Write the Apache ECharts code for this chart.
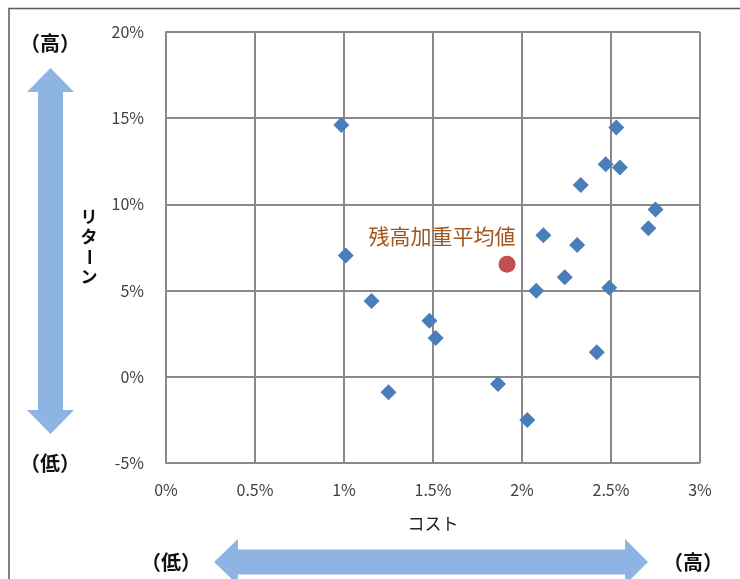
<!DOCTYPE html>
<html>
<head>
<meta charset="utf-8">
<script src="https://cdn.jsdelivr.net/npm/echarts@6/dist/echarts.min.js"></script>
<style>
  html, body { margin: 0; padding: 0; background: #fff; }
  #chart { width: 740px; height: 579px; }
</style>
</head>
<body>
<div id="chart"></div>
<script>
// Cost (%) vs return (%) for each fund
const costs   = [0.985, 1.01, 1.155, 1.48, 1.515, 1.25, 1.865, 2.03, 2.08, 2.12, 2.24, 2.31, 2.33, 2.42, 2.47, 2.49, 2.53, 2.55, 2.71, 2.75];
const returns = [14.6, 7.03, 4.4, 3.25, 2.25, -0.89, -0.42, -2.51, 4.99, 8.21, 5.77, 7.65, 11.13, 1.43, 12.33, 5.17, 14.46, 12.14, 8.62, 9.70];

// Balance-weighted average
const avgCost = [1.916];
const avgReturn = [6.53];
const avgLabel = '残高加重平均値';

// Axis settings
const xMin = 0, xMax = 3, xStep = 0.5;
const yMin = -5, yMax = 20, yStep = 5;
const xTitle = 'コスト';
const yTitleChars = ['リ', 'タ', 'ー', 'ン'];
const highText = '（高）';
const lowText = '（低）';

const pct = v => (Math.round(v * 10) / 10) + '%';

const chart = echarts.init(document.getElementById('chart'));

const arrowColor = '#8DB4E2';
const jp = '"Noto Sans CJK JP", "Noto Sans", sans-serif';
const capFont = 'bold 20px ' + jp;

const yTitleGraphics = yTitleChars.map((ch, i) => ({
  type: 'text',
  x: 89,
  y: 217 + i * 20,
  rotation: ch === 'ー' ? -Math.PI / 2 : 0,
  style: {
    text: ch, fill: '#111', font: 'bold 17px ' + jp,
    align: 'center', verticalAlign: 'middle'
  },
  z: 10
}));

chart.setOption({
  animation: false,
  backgroundColor: '#fff',
  grid: { left: 166, right: 40, top: 32, bottom: 116, containLabel: false },
  xAxis: {
    type: 'value', min: xMin, max: xMax, interval: xStep,
    name: xTitle, nameLocation: 'middle', nameGap: 52,
    nameTextStyle: { fontSize: 17, color: '#222', fontFamily: jp },
    axisLine: { show: true, lineStyle: { color: '#898989', width: 2 } },
    axisTick: { show: false },
    axisLabel: { formatter: pct, fontSize: 16, color: '#404040', margin: 19, fontFamily: jp },
    splitLine: { show: true, lineStyle: { color: '#898989', width: 2 } }
  },
  yAxis: {
    type: 'value', min: yMin, max: yMax, interval: yStep,
    axisLine: { show: true, lineStyle: { color: '#898989', width: 2 } },
    axisTick: { show: false },
    axisLabel: { formatter: pct, fontSize: 16, color: '#404040', margin: 22, fontFamily: jp },
    splitLine: { show: true, lineStyle: { color: '#898989', width: 2 } }
  },
  graphic: [
    // chart frame
    { type: 'polyline', shape: { points: [[9, 600], [9, 8.5], [760, 8.5]] },
      style: { stroke: '#5a5a5a', lineWidth: 1.5, fill: null }, z: 1 },
    // vertical double arrow
    { type: 'polygon', shape: { points: [
        [50.5, 68], [74, 92], [63, 92], [63, 410], [74, 410], [50.5, 434],
        [27, 410], [38, 410], [38, 92], [27, 92]
      ] }, style: { fill: arrowColor }, z: 1 },
    // horizontal double arrow
    { type: 'polygon', shape: { points: [
        [214, 562], [238, 539], [238, 549.5], [625, 549.5], [625, 539], [648, 562],
        [625, 585], [625, 574.5], [238, 574.5], [238, 585]
      ] }, style: { fill: arrowColor }, z: 1 },
    { type: 'text', x: 50, y: 43, style: { text: highText, fill: '#111', font: capFont, align: 'center', verticalAlign: 'middle' } },
    { type: 'text', x: 50, y: 463, style: { text: lowText, fill: '#111', font: capFont, align: 'center', verticalAlign: 'middle' } },
    { type: 'text', x: 171, y: 562, style: { text: lowText, fill: '#111', font: capFont, align: 'center', verticalAlign: 'middle' } },
    { type: 'text', x: 693, y: 562, style: { text: highText, fill: '#111', font: capFont, align: 'center', verticalAlign: 'middle' } },
    ...yTitleGraphics
  ],
  series: [
    {
      type: 'scatter',
      data: costs.map((c, i) => [c, returns[i]]),
      symbol: 'diamond',
      symbolSize: [16, 16],
      itemStyle: { color: '#4A7EBB', opacity: 1 },
      z: 5
    },
    {
      type: 'scatter',
      data: avgCost.map((c, i) => [c, avgReturn[i]]),
      symbol: 'circle',
      symbolSize: 17,
      itemStyle: { color: '#C0504D', opacity: 1 },
      label: {
        show: true, formatter: avgLabel, position: 'inside', offset: [-65, -28],
        color: '#A0561F', fontSize: 21, fontFamily: jp
      },
      z: 6
    }
  ]
});
</script>
</body>
</html>
